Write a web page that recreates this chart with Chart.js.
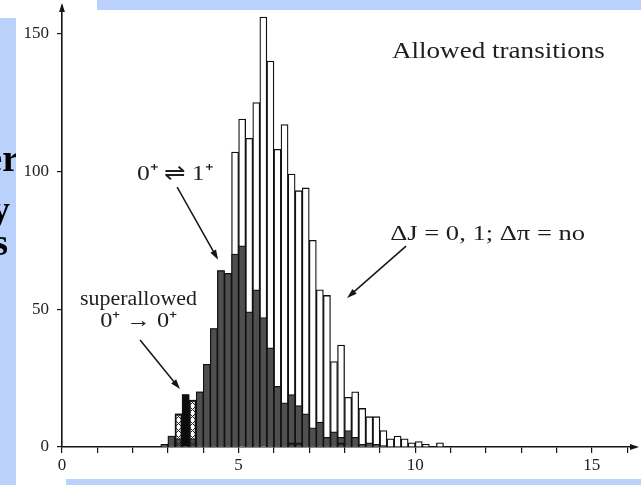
<!DOCTYPE html>
<html>
<head>
<meta charset="utf-8">
<title>Allowed transitions</title>
<script src="https://cdn.jsdelivr.net/npm/chart.js@4.4.1/dist/chart.umd.min.js"></script>
<style>
  html, body { margin: 0; padding: 0; background: #fff; overflow: hidden; }
  #wrap { width: 641px; height: 485px; }
</style>
</head>
<body>
<div id="wrap"><canvas id="logft" width="641" height="485"></canvas></div>
<script>
// bin centres (log ft, bins 0.2 wide)
const binCenters = [2.9, 3.1, 3.3, 3.5, 3.7, 3.9, 4.1, 4.3, 4.5, 4.7,
                    4.9, 5.1, 5.3, 5.5, 5.7, 5.9, 6.1, 6.3, 6.5, 6.7,
                    6.9, 7.1, 7.3, 7.5, 7.7, 7.9, 8.1, 8.3, 8.5, 8.7,
                    8.9, 9.1, 9.3, 9.5, 9.7, 9.9, 10.1, 10.3, 10.5, 10.7];

// all allowed transitions (dJ = 0,1; no parity change) - open bars
const allowedCounts = [1, 4, 12, 19, 17, 20, 30, 43, 64, 63,
                       107, 119, 112, 125, 156, 140, 108, 117, 99, 93,
                       94, 75, 57, 55, 31, 37, 18, 20, 14, 11,
                       11, 6, 3, 4, 3, 1.5, 2, 1, 0, 1.5];

// 0+ <-> 1+ transitions - grey bars
const gtCounts = [1, 4, 3, 0, 3, 20, 30, 43, 64, 63,
                  70, 73, 49, 57, 47, 36, 22, 16, 19, 15,
                  12, 7, 9, 3.5, 5.5, 3.5, 6, 3.5, 1, 1.5,
                  1, 0.5, 0, 0, 0, 0, 0, 0, 0, 0];

// superallowed 0+ -> 0+ - black bar
const superallowedCounts = [0, 0, 0, 19, 0, 0, 0, 0, 0, 0,
                            0, 0, 0, 0, 0, 0, 0, 0, 0, 0,
                            0, 0, 0, 0, 0, 0, 0, 0, 0, 0,
                            0, 0, 0, 0, 0, 0, 0, 0, 0, 0];

// cross-hatched bars
const hatchedCounts = [0, 0, 12, 0, 17, 0, 0, 0, 0, 0,
                       0, 0, 0, 0, 0, 0, 0, 0, 1.5, 1.5,
                       0, 0, 0, 0, 0, 1.5, 0, 0, 0, 0,
                       0, 0, 0, 0, 0, 0, 0, 0, 0, 0];

const xLabelTicks = [0, 5, 10, 15];
const yTickStep = 50;

// annotations: text, left x (value), middle y (value), width (value units), font
const notes = [
  ['Allowed transitions', 9.34, 143.3, 6.03, '24px "Liberation Serif"'],
  ['0⁺ ⇌ 1⁺', 2.12, 99, 2.15, '22px "Liberation Serif"'],
  ['ΔJ = 0, 1; Δπ = no', 9.29, 77.3, 5.52, '22px "Liberation Serif"'],
  ['superallowed', 0.51, 53.3, 3.31, '20px "Liberation Serif"'],
  ['0⁺ → 0⁺', 1.08, 45.4, 2.18, '21px "Liberation Serif"']
];
// pointer arrows: from (x, y) to (x, y), in data values
const pointers = [
  [3.26, 94.3, 4.42, 67.9],
  [9.74, 72.9, 8.07, 54.1],
  [2.21, 38.8, 3.34, 21.0]
];

const toPoints = arr => binCenters.map((c, i) => ({ x: c, y: arr[i] === 0 ? null : arr[i] }));

const canvas = document.getElementById('logft');
const ctx = canvas.getContext('2d');

// cross hatch pattern
const tile = document.createElement('canvas');
tile.width = 7; tile.height = 7;
const tg = tile.getContext('2d');
tg.strokeStyle = '#222';
tg.lineWidth = 1;
tg.beginPath();
tg.moveTo(0, 0); tg.lineTo(7, 7);
tg.moveTo(7, 0); tg.lineTo(0, 7);
tg.stroke();
const hatch = ctx.createPattern(tile, 'repeat');

function drawArrow(g, x1, y1, x2, y2, head) {
  const a = Math.atan2(y2 - y1, x2 - x1);
  const c = Math.cos(a), s = Math.sin(a);
  g.beginPath();
  g.moveTo(x1, y1);
  g.lineTo(x2 - c * head * 0.6, y2 - s * head * 0.6);
  g.stroke();
  g.beginPath();
  g.moveTo(x2, y2);
  g.lineTo(x2 - head * c + head * 0.32 * s, y2 - head * s - head * 0.32 * c);
  g.lineTo(x2 - head * c - head * 0.32 * s, y2 - head * s + head * 0.32 * c);
  g.closePath();
  g.fill();
}

const slideBackdrop = {
  id: 'slideBackdrop',
  beforeDraw(chart) {
    const g = chart.ctx;
    g.save();
    g.fillStyle = '#fff';
    g.fillRect(0, 0, chart.width, chart.height);
    g.fillStyle = '#bad2fb';
    g.fillRect(97, 0, 544, 10);
    g.fillRect(0, 18, 16, 467);
    g.fillRect(66, 479, 575, 6);
    // clipped words of the slide behind the picture
    g.beginPath();
    g.rect(0, 18, 16, 467);
    g.clip();
    g.fillStyle = '#000';
    g.font = 'bold 38px "Liberation Serif"';
    g.textAlign = 'right';
    g.textBaseline = 'alphabetic';
    g.fillText('er', 19, 171);
    g.fillText('y', 10, 222);
    g.fillText('s', 8, 255);
    g.restore();
  },
  afterDraw(chart) {
    const g = chart.ctx;
    const xs = chart.scales.x, ys = chart.scales.y;
    const area = chart.chartArea;
    g.save();
    g.fillStyle = '#151515';
    g.strokeStyle = '#151515';
    g.lineWidth = 1.5;
    // axis arrows
    drawArrow(g, area.right - 6, area.bottom, area.right + 3, area.bottom, 9);
    drawArrow(g, area.left, area.top + 6, area.left, area.top - 3, 9);
    // pointers
    pointers.forEach(p => {
      drawArrow(g, xs.getPixelForValue(p[0]), ys.getPixelForValue(p[1]),
                xs.getPixelForValue(p[2]), ys.getPixelForValue(p[3]), 10);
    });
    // labels
    g.fillStyle = '#1e1e1e';
    g.textAlign = 'left';
    g.textBaseline = 'middle';
    notes.forEach(n => {
      const x = xs.getPixelForValue(n[1]);
      const y = ys.getPixelForValue(n[2]);
      const w = xs.getPixelForValue(n[1] + n[3]) - x;
      g.save();
      g.font = n[4];
      const natural = g.measureText(n[0]).width;
      g.translate(x, y);
      g.scale(w / natural, 1);
      g.fillText(n[0], 0, 0);
      g.restore();
    });
    g.restore();
  }
};

const tickFont = { family: '"Liberation Serif"', size: 17 };

new Chart(ctx, {
  type: 'bar',
  data: {
    datasets: [
      { label: 'superallowed 0+ -> 0+', data: toPoints(superallowedCounts),
        backgroundColor: '#0c0c0c', borderColor: '#111', borderWidth: 1.2 },
      { label: 'hatched', data: toPoints(hatchedCounts),
        backgroundColor: hatch, borderColor: '#111', borderWidth: 1.2 },
      { label: '0+ <-> 1+', data: toPoints(gtCounts),
        backgroundColor: '#4f4f4f', borderColor: '#111', borderWidth: 1.2 },
      { label: 'dJ = 0,1; dpi = no', data: toPoints(allowedCounts),
        backgroundColor: '#ffffff', borderColor: '#111', borderWidth: 1.3 }
    ]
  },
  options: {
    responsive: false,
    devicePixelRatio: 1,
    animation: false,
    layout: { padding: { top: 6, right: 5, left: 0, bottom: 0 } },
    datasets: { bar: { grouped: false, barPercentage: 1, categoryPercentage: 1 } },
    plugins: { legend: { display: false }, tooltip: { enabled: false } },
    scales: {
      x: {
        type: 'linear', min: 0, max: 16.25, offset: false,
        grid: { offset: false, drawOnChartArea: false, tickLength: 6, color: '#151515', lineWidth: 1.2 },
        border: { display: true, color: '#151515', width: 1.6 },
        ticks: {
          stepSize: 1, includeBounds: false, autoSkip: false, maxRotation: 0, padding: 2,
          font: tickFont, color: '#222',
          callback: v => xLabelTicks.includes(v) ? String(v) : ''
        },
        afterFit(s) { s.height = 38; s.paddingLeft = 0; s.paddingRight = 0; }
      },
      y: {
        min: 0, max: 160,
        grid: { drawOnChartArea: false, tickLength: 5, color: '#151515', lineWidth: 1.2 },
        border: { display: true, color: '#151515', width: 1.6 },
        ticks: { stepSize: yTickStep, includeBounds: false, padding: 8, font: tickFont, color: '#222' },
        afterFit(s) { s.width = 62; s.paddingTop = 0; s.paddingBottom = 0; }
      }
    }
  },
  plugins: [slideBackdrop]
});
</script>
</body>
</html>
